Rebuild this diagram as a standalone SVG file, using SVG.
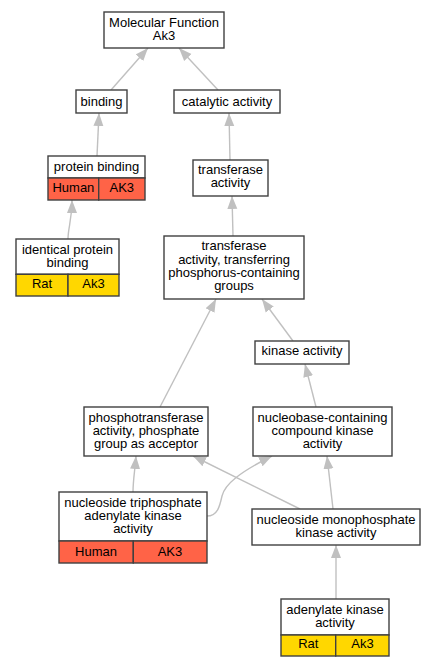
<svg xmlns="http://www.w3.org/2000/svg" width="436" height="667" viewBox="0 0 436 667">
<defs>
<marker id="ah" markerUnits="userSpaceOnUse" markerWidth="14" markerHeight="11" refX="13" refY="5" orient="auto" viewBox="0 0 14 10">
<path d="M0,0 L13,5 L0,10 z" fill="#c0c0c0"/>
</marker>
<style>
.box{fill:#fff;stroke:#404040;stroke-width:1.4}
.hu{fill:#ff6347;stroke:#404040;stroke-width:1.4}
.ra{fill:#ffd700;stroke:#404040;stroke-width:1.4}
.e{fill:none;stroke:#c0c0c0;stroke-width:1.4;marker-end:url(#ah)}
text{font-family:"Liberation Sans",Arial,sans-serif;font-size:13px;fill:#000;text-anchor:middle}
</style>
</defs>
<rect width="436" height="667" fill="#fff"/>
<g id="edges">
<path class="e" d="M111,90 L148,48"/>
<path class="e" d="M218,90 L179,48"/>
<path class="e" d="M97,156 L99,113"/>
<path class="e" d="M230,160 L229,113"/>
<path class="e" d="M68,239 C68,228 72,220 72,200"/>
<path class="e" d="M233,236 L232,196"/>
<path class="e" d="M160,407 L216,299"/>
<path class="e" d="M293,341 L262,299"/>
<path class="e" d="M316,407 L305,364"/>
<path class="e" d="M133,492 C133,480 135,470 136,456"/>
<path class="e" d="M207,516 C218,516 220,505 222,496 C225,484 240,472 272,456"/>
<path class="e" d="M300,509 L193,456"/>
<path class="e" d="M333,509 L327,456"/>
<path class="e" d="M336,599 L336,545"/>
</g>
<g id="mf">
<rect class="box" x="104" y="12" width="120" height="36"/>
<text x="164" y="26.5">Molecular Function</text>
<text x="164" y="39.5">Ak3</text>
</g>
<g id="binding">
<rect class="box" x="76" y="90" width="51" height="23"/>
<text x="101.5" y="106">binding</text>
</g>
<g id="catalytic">
<rect class="box" x="174" y="90" width="106" height="23"/>
<text x="227" y="106">catalytic activity</text>
</g>
<g id="protein_binding">
<rect class="box" x="48" y="156" width="97" height="22"/>
<rect class="hu" x="48" y="178" width="50.7" height="22"/>
<rect class="hu" x="98.7" y="178" width="46.3" height="22"/>
<text x="96.5" y="170.5">protein binding</text>
<text x="73.4" y="192">Human</text>
<text x="121.8" y="192">AK3</text>
</g>
<g id="transferase">
<rect class="box" x="193" y="160" width="75" height="36"/>
<text x="230.5" y="174">transferase</text>
<text x="230.5" y="187">activity</text>
</g>
<g id="identical">
<rect class="box" x="16" y="239" width="103" height="35.3"/>
<rect class="ra" x="16" y="274.3" width="52" height="21.7"/>
<rect class="ra" x="68" y="274.3" width="51" height="21.7"/>
<text x="67.5" y="253.5">identical protein</text>
<text x="67.5" y="266.5">binding</text>
<text x="42" y="288">Rat</text>
<text x="93.5" y="288">Ak3</text>
</g>
<g id="transferring">
<rect class="box" x="164" y="236" width="140" height="63"/>
<text x="234" y="250">transferase</text>
<text x="234" y="263.5">activity, transferring</text>
<text x="234" y="276.5">phosphorus-containing</text>
<text x="234" y="290">groups</text>
</g>
<g id="kinase">
<rect class="box" x="255" y="341" width="94" height="23"/>
<text x="302" y="355">kinase activity</text>
</g>
<g id="phosphotransferase">
<rect class="box" x="84" y="407" width="124" height="49"/>
<text x="146" y="421.5">phosphotransferase</text>
<text x="146" y="434.5">activity, phosphate</text>
<text x="146" y="447.5">group as acceptor</text>
</g>
<g id="nucleobase">
<rect class="box" x="253" y="407" width="139" height="49"/>
<text x="322.5" y="421.5">nucleobase-containing</text>
<text x="322.5" y="434.5">compound kinase</text>
<text x="322.5" y="447.5">activity</text>
</g>
<g id="triphosphate">
<rect class="box" x="59" y="492" width="148" height="49"/>
<rect class="hu" x="59" y="541" width="74.3" height="22"/>
<rect class="hu" x="133.3" y="541" width="73.7" height="22"/>
<text x="133" y="506.5">nucleoside triphosphate</text>
<text x="133" y="519.5">adenylate kinase</text>
<text x="133" y="533">activity</text>
<text x="96" y="555.5">Human</text>
<text x="170" y="555.5">AK3</text>
</g>
<g id="monophosphate">
<rect class="box" x="252" y="509" width="168" height="36"/>
<text x="336" y="523.5">nucleoside monophosphate</text>
<text x="336" y="536.5">kinase activity</text>
</g>
<g id="adenylate">
<rect class="box" x="281" y="599" width="108" height="36"/>
<rect class="ra" x="281" y="635" width="54.7" height="21"/>
<rect class="ra" x="335.7" y="635" width="53.3" height="21"/>
<text x="335" y="613.5">adenylate kinase</text>
<text x="335" y="626.5">activity</text>
<text x="308.3" y="648">Rat</text>
<text x="362.5" y="648">Ak3</text>
</g>
</svg>
